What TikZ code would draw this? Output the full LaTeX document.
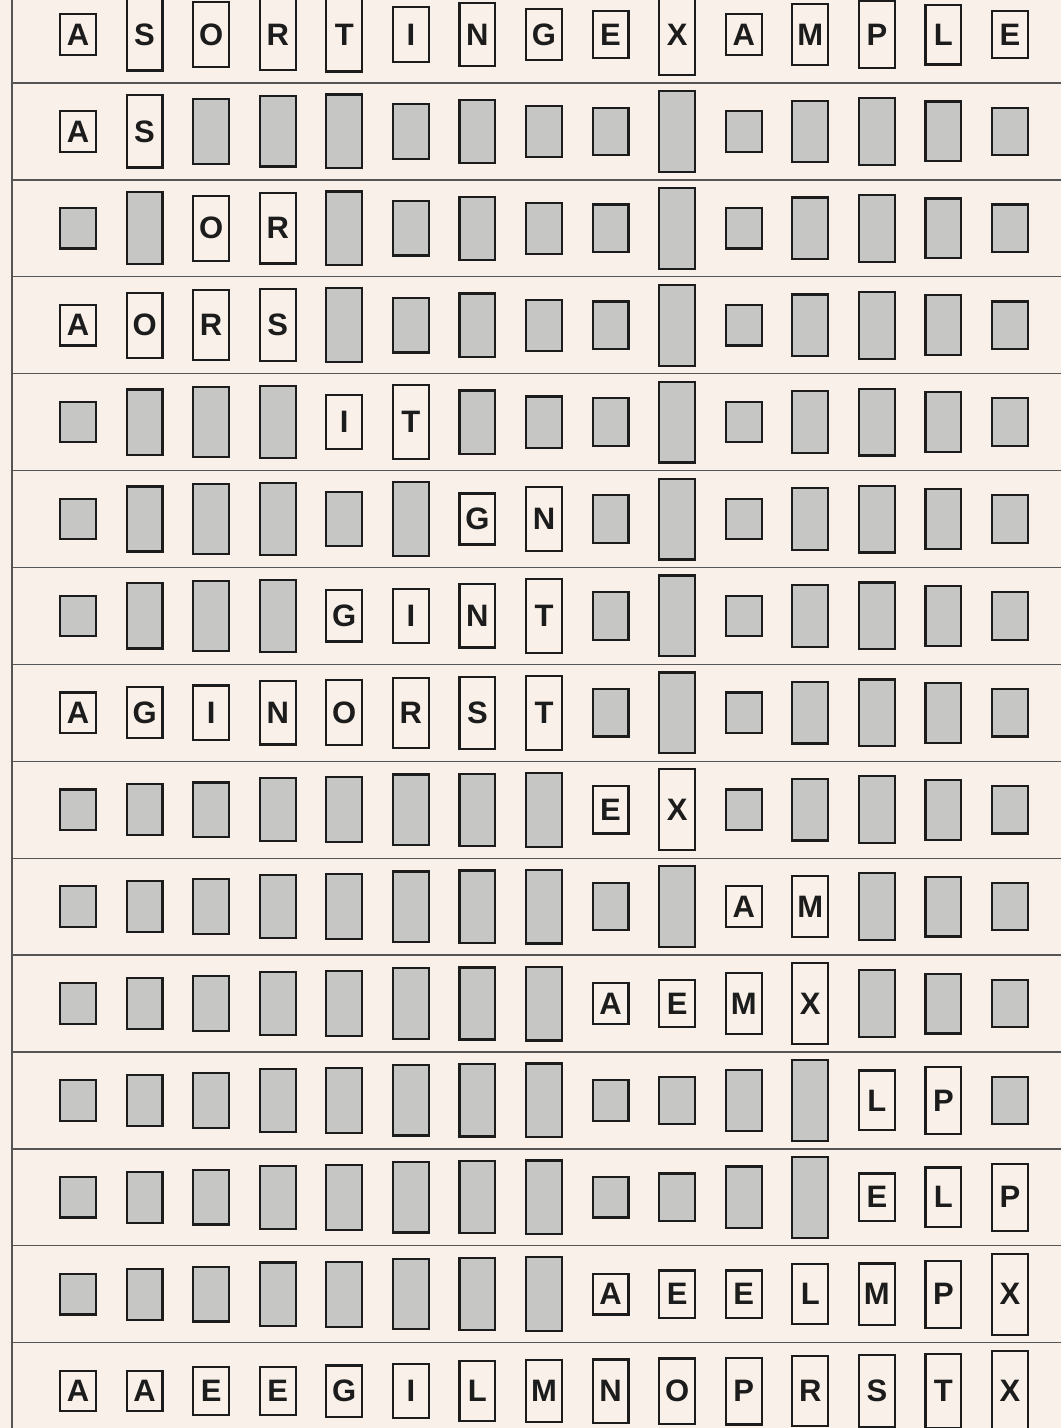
\documentclass[tikz,border=0pt]{standalone}
\usepackage{fontspec}
\setmainfont{Liberation Sans}
\newfontfamily\boxfont{Liberation Sans Bold}
\definecolor{paper}{RGB}{249,241,233}
\definecolor{boxgray}{RGB}{198,198,196}
\definecolor{ink}{RGB}{28,28,28}
\definecolor{rule}{RGB}{85,85,85}
\tikzset{
  cell/.style={draw=ink, line width=2.2pt, minimum width=35.8pt, inner sep=0pt, outer sep=0pt},
  cellwhite/.style={cell, fill=paper, text=ink, font=\boxfont\fontsize{31}{31}\selectfont},
  cellgray/.style={cell, fill=boxgray},
  sepline/.style={draw=rule, line width=1.3pt}
}
\newcommand\mergerow[4]{%
  \foreach \L [count=\c] in {#4} {%
    \pgfmathsetmacro\hh{38.8+1.75*(\number\expandafter`\L-64)}%
    \pgfmathsetmacro\xx{78+66.57*(\c-1)}%
    \pgfmathsetmacro\yy{34.5+96.9*(#1-1)}%
    \ifnum\c<#2\relax
      \node[cellgray, minimum height=\hh pt] (r#1c\c) at (\xx,\yy) {};
    \else\ifnum\c>#3\relax
      \node[cellgray, minimum height=\hh pt] (r#1c\c) at (\xx,\yy) {};
    \else
      \node[cellwhite, minimum height=\hh pt] (r#1c\c) at (\xx,\yy) {\L};
    \fi\fi
  }%
}
\begin{document}
\begin{tikzpicture}[x=1pt,y=-1pt]
  \useasboundingbox (0,0) rectangle (1061,1428);
  \fill[paper] (0,0) rectangle (1061,1428);
  \clip (0,0) rectangle (1061,1428);
  \coordinate (vtop) at (12,0);
  \coordinate (vbot) at (12,1428);
  \draw[sepline] (vtop) -- (vbot);
  \foreach \i in {0,...,13} {
    \pgfmathsetmacro\ly{83+96.9*\i}
    \coordinate (sl\i) at (12,\ly);
    \coordinate (sr\i) at (1061,\ly);
    \draw[sepline] (sl\i) -- (sr\i);
  }
  \mergerow{1}{1}{15}{A,S,O,R,T,I,N,G,E,X,A,M,P,L,E}
  \mergerow{2}{1}{2}{A,S,O,R,T,I,N,G,E,X,A,M,P,L,E}
  \mergerow{3}{3}{4}{A,S,O,R,T,I,N,G,E,X,A,M,P,L,E}
  \mergerow{4}{1}{4}{A,O,R,S,T,I,N,G,E,X,A,M,P,L,E}
  \mergerow{5}{5}{6}{A,O,R,S,I,T,N,G,E,X,A,M,P,L,E}
  \mergerow{6}{7}{8}{A,O,R,S,I,T,G,N,E,X,A,M,P,L,E}
  \mergerow{7}{5}{8}{A,O,R,S,G,I,N,T,E,X,A,M,P,L,E}
  \mergerow{8}{1}{8}{A,G,I,N,O,R,S,T,E,X,A,M,P,L,E}
  \mergerow{9}{9}{10}{A,G,I,N,O,R,S,T,E,X,A,M,P,L,E}
  \mergerow{10}{11}{12}{A,G,I,N,O,R,S,T,E,X,A,M,P,L,E}
  \mergerow{11}{9}{12}{A,G,I,N,O,R,S,T,A,E,M,X,P,L,E}
  \mergerow{12}{13}{14}{A,G,I,N,O,R,S,T,A,E,M,X,L,P,E}
  \mergerow{13}{13}{15}{A,G,I,N,O,R,S,T,A,E,M,X,E,L,P}
  \mergerow{14}{9}{15}{A,G,I,N,O,R,S,T,A,E,E,L,M,P,X}
  \mergerow{15}{1}{15}{A,A,E,E,G,I,L,M,N,O,P,R,S,T,X}
\end{tikzpicture}
\end{document}
